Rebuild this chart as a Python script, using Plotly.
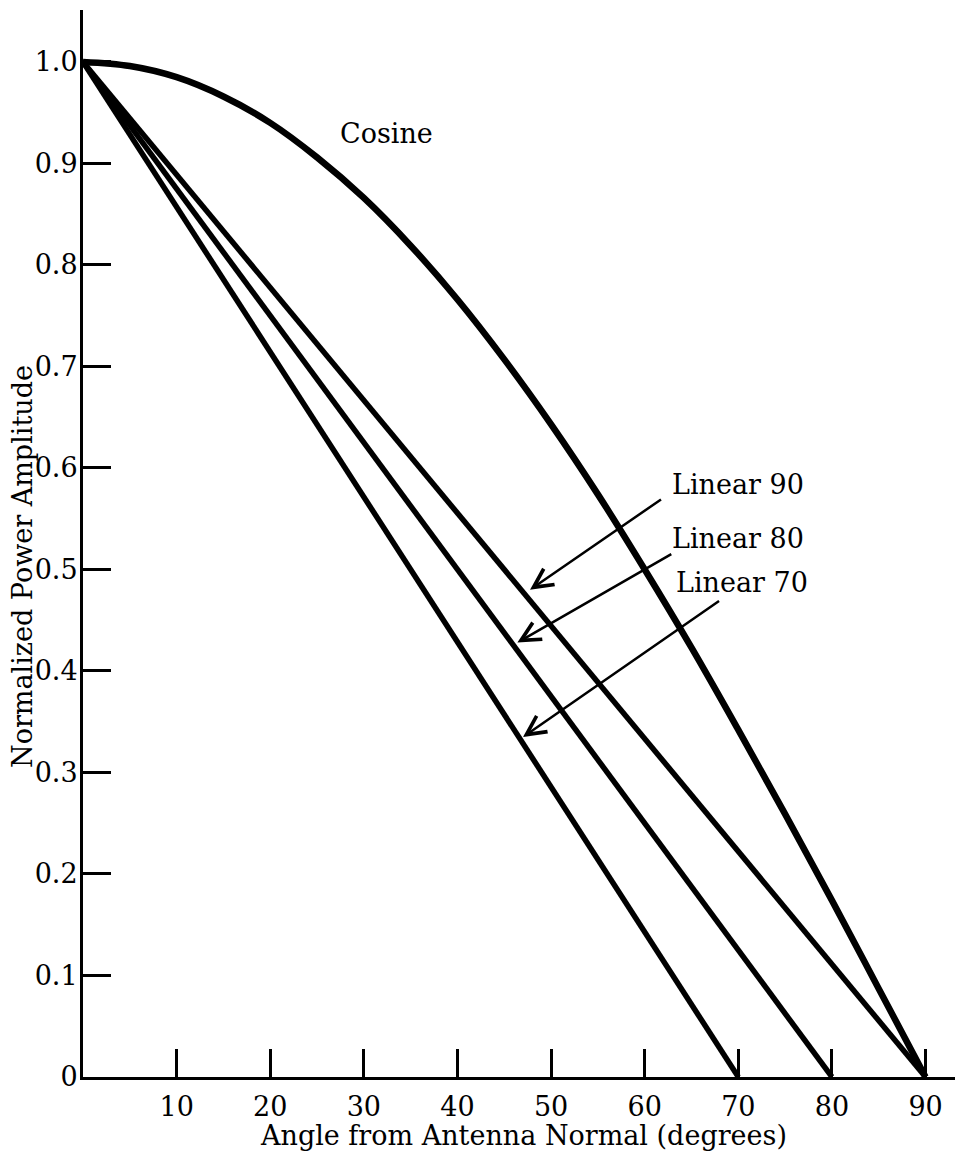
import plotly.graph_objects as go

# ---- data ----
cos_angle = [0, 5, 10, 15, 20, 25, 30, 35, 40, 45, 50, 55, 60, 65, 70, 75, 80, 85, 90]
cos_value = [1.0, 0.996, 0.985, 0.966, 0.94, 0.906, 0.866, 0.819, 0.766, 0.707,
             0.643, 0.574, 0.5, 0.423, 0.342, 0.259, 0.174, 0.087, 0.0]

lin90_angle = [0, 45, 90]
lin90_value = [1.0, 0.5, 0.0]
lin80_angle = [0, 40, 80]
lin80_value = [1.0, 0.5, 0.0]
lin70_angle = [0, 35, 70]
lin70_value = [1.0, 0.5, 0.0]

x_ticks = [10, 20, 30, 40, 50, 60, 70, 80, 90]
y_ticks = [0, 0.1, 0.2, 0.3, 0.4, 0.5, 0.6, 0.7, 0.8, 0.9, 1.0]
y_ticktext = ["0", "0.1", "0.2", "0.3", "0.4", "0.5", "0.6", "0.7", "0.8", "0.9", "1.0"]

labels = ["Linear 90", "Linear 80", "Linear 70"]
label_x = [70.0, 70.0, 70.4]
label_y = [0.584, 0.531, 0.487]
arrow_tip_x = [47.75, 46.4, 47.0]
arrow_tip_y = [0.480, 0.428, 0.335]
arrow_tail_x = [61.9, 63.0, 68.1]
arrow_tail_y = [0.570, 0.516, 0.470]

FONT = "DejaVu Serif"
fig = go.Figure()
fig.add_trace(go.Scatter(x=cos_angle, y=cos_value, mode="lines",
                         line=dict(color="black", width=6.5, shape="spline"),
                         name="Cosine"))
for xs, ys, nm in [(lin90_angle, lin90_value, "Linear 90"),
                   (lin80_angle, lin80_value, "Linear 80"),
                   (lin70_angle, lin70_value, "Linear 70")]:
    fig.add_trace(go.Scatter(x=xs, y=ys, mode="lines",
                             line=dict(color="black", width=5.5), name=nm))

annotations = []
annotations.append(dict(x=32.4, y=0.930, xref="x", yref="y", text="Cosine",
                        showarrow=False, font=dict(family=FONT, size=27, color="black")))
for i, t in enumerate(labels):
    annotations.append(dict(x=label_x[i], y=label_y[i], xref="x", yref="y", text=t,
                            showarrow=False, font=dict(family=FONT, size=27, color="black")))
    annotations.append(dict(x=arrow_tip_x[i], y=arrow_tip_y[i], xref="x", yref="y",
                            ax=arrow_tail_x[i], ay=arrow_tail_y[i], axref="x", ayref="y",
                            text="", showarrow=True, arrowhead=5, arrowsize=1.5,
                            arrowwidth=2.5, arrowcolor="black"))
annotations.append(dict(x=47.0, y=0, xref="x", yref="paper", yshift=-58,
                        text="Angle from Antenna Normal (degrees)", showarrow=False,
                        yanchor="middle", font=dict(family=FONT, size=27, color="black")))
annotations.append(dict(x=0, y=0.478, xref="paper", yref="paper", xshift=-60,
                        text="Normalized Power Amplitude", textangle=-90, showarrow=False,
                        xanchor="center", yanchor="middle", borderpad=0,
                        font=dict(family=FONT, size=27, color="black")))

fig.update_layout(
    width=963, height=1162,
    margin=dict(l=75, r=8, t=2, b=93),
    paper_bgcolor="white", plot_bgcolor="white",
    showlegend=False,
    annotations=annotations,
    xaxis=dict(range=[0, 94], tickvals=x_ticks, ticks="inside", ticklen=28, tickwidth=3,
               tickcolor="black", showline=True, linecolor="black", linewidth=3,
               showgrid=False, zeroline=False, ticklabelstandoff=4,
               tickfont=dict(family=FONT, size=27, color="black")),
    yaxis=dict(range=[0, 1.0512], tickvals=y_ticks, ticktext=y_ticktext, ticks="inside",
               ticklen=28, tickwidth=3, tickcolor="black", showline=True, linecolor="black",
               linewidth=3, showgrid=False, zeroline=False, ticklabelstandoff=-3,
               tickfont=dict(family=FONT, size=27, color="black")),
)
fig.write_html("out.html")
